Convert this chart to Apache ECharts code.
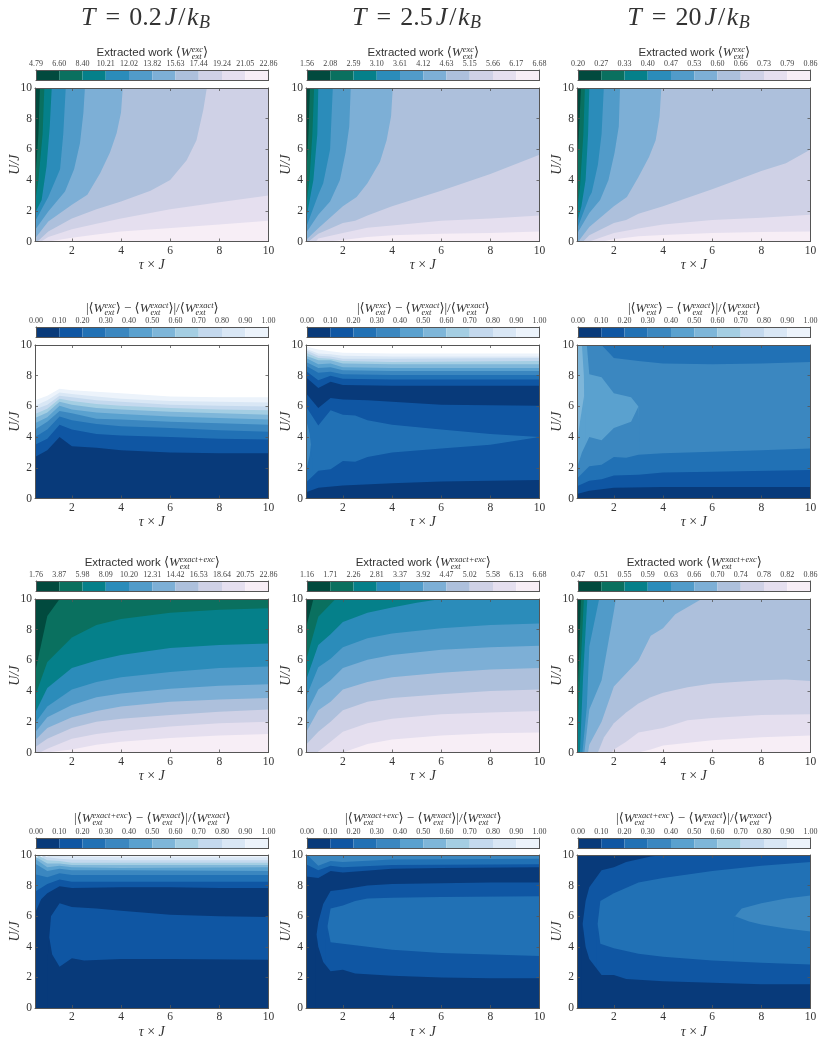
<!DOCTYPE html>
<html>
<head>
<meta charset="utf-8">
<style>
html, body { margin: 0; padding: 0; background: #fff; }
#main { width: 832px; height: 1040px; }
</style>
<script src="https://cdn.jsdelivr.net/npm/echarts@6/dist/echarts.min.js"></script>
</head>
<body>
<div id="main"></div>
<script>
var greens = ['#014a3e', '#0a705f', '#05808a', '#2b8cba', '#519bc9', '#7dafd6', '#adc0dc', '#cfd1e6', '#e5dfef', '#f7eef6'];
var blues = ['#083a7a', '#0f56a3', '#2171b5', '#3b87c0', '#5aa1cf', '#7eb6d9', '#a4cee3', '#c4d9ee', '#d9e7f5', '#ecf3fb', '#ffffff'];

var xTicks = [2, 4, 6, 8, 10];

// colorbar tick labels
var ticks11 = ['4.79', '6.60', '8.40', '10.21', '12.02', '13.82', '15.63', '17.44', '19.24', '21.05', '22.86'];
var ticks12 = ['1.56', '2.08', '2.59', '3.10', '3.61', '4.12', '4.63', '5.15', '5.66', '6.17', '6.68'];
var ticks13 = ['0.20', '0.27', '0.33', '0.40', '0.47', '0.53', '0.60', '0.66', '0.73', '0.79', '0.86'];
var ticksErr = ['0.00', '0.10', '0.20', '0.30', '0.40', '0.50', '0.60', '0.70', '0.80', '0.90', '1.00'];
var ticks31 = ['1.76', '3.87', '5.98', '8.09', '10.20', '12.31', '14.42', '16.53', '18.64', '20.75', '22.86'];
var ticks32 = ['1.16', '1.71', '2.26', '2.81', '3.37', '3.92', '4.47', '5.02', '5.58', '6.13', '6.68'];
var ticks33 = ['0.47', '0.51', '0.55', '0.59', '0.63', '0.66', '0.70', '0.74', '0.78', '0.82', '0.86'];

// contour layers, each is [level, curve], later layers paint over earlier ones
var p11 = [
  [0, [[0.5,10],[10,10]]],
  [1, [[0.5,3.8],[0.64,7],[0.7,10],[10,10]]],
  [2, [[0.5,2.5],[0.64,4],[0.81,7],[0.88,10],[10,10]]],
  [3, [[0.5,1.85],[0.77,2.7],[0.97,4.9],[1.1,7.5],[1.18,10],[10,10]]],
  [4, [[0.5,1.3],[1.04,2.9],[1.52,4.7],[1.65,7],[1.75,10],[10,10]]],
  [5, [[0.5,0.75],[1.04,1.95],[1.72,3.25],[2.09,4.7],[2.33,6.4],[2.47,8.4],[2.53,10],[10,10]]],
  [6, [[0.5,0.2],[1.04,1.3],[2,2.4],[2.63,3.05],[3.15,4.45],[3.55,5.8],[3.82,7.05],[4,8.4],[4.07,10],[10,10]]],
  [7, [[0.6,0],[1.04,0.65],[2,1.5],[3,2.1],[4,2.6],[5.2,3.3],[6,4],[6.67,5.3],[7.07,6.6],[7.35,8.6],[7.49,10],[10,10]]],
  [8, [[0.75,0],[1.04,0.3],[2,0.8],[3,1.15],[4,1.5],[6,2.1],[8,2.55],[10,3]]],
  [9, [[1.04,0],[2,0.25],[3,0.45],[4,0.65],[5.9,0.87],[8,1.1],[10,1.35]]]
];
var p12 = [
  [0, [[0.5,10],[10,10]]],
  [1, [[0.5,4],[0.6,7],[0.66,10],[10,10]]],
  [2, [[0.5,2.2],[0.64,4],[0.76,7],[0.83,10],[10,10]]],
  [3, [[0.5,1.4],[0.8,4],[0.96,7],[1,10],[10,10]]],
  [4, [[0.5,0.9],[1,3.05],[1.2,3.8],[1.48,6],[1.59,10],[10,10]]],
  [5, [[0.5,0.55],[1,1.75],[1.48,2.6],[1.88,4],[2.11,5.8],[2.26,7.5],[2.32,10],[10,10]]],
  [6, [[0.5,0.1],[1,0.87],[2,2.3],[2.56,2.9],[3,3.8],[3.51,5.2],[3.78,6.6],[3.96,8.15],[4.03,10],[10,10]]],
  [7, [[0.6,0],[1,0.5],[2,1.2],[2.5,1.35],[3,1.7],[4,2.3],[6,3.3],[8,4.4],[10,5.65]]],
  [8, [[0.9,0],[1,0.2],[2,0.55],[3,0.9],[4,1.05],[6,1.35],[8,1.5],[10,1.7]]],
  [9, [[1.4,0],[2,0.1],[3,0.3],[4,0.4],[6,0.5],[8,0.55],[10,0.65]]]
];
var p13 = [
  [0, [[0.5,10],[10,10]]],
  [1, [[0.5,4.5],[0.58,7],[0.66,10],[10,10]]],
  [2, [[0.5,2],[0.62,3.5],[0.76,7],[0.82,10],[10,10]]],
  [3, [[0.5,1.2],[0.68,2.3],[0.85,4],[0.95,7],[1,10],[10,10]]],
  [4, [[0.5,0.8],[1,2.9],[1.1,3.2],[1.35,5],[1.5,7],[1.59,10],[10,10]]],
  [5, [[0.5,0.5],[1,1.85],[1.44,2.7],[1.78,4],[2.03,5.8],[2.2,7.5],[2.25,10],[10,10]]],
  [6, [[0.6,0.1],[1,0.95],[2,2.3],[2.53,2.9],[3,4.2],[3.43,5.5],[3.7,6.6],[3.86,8.15],[3.93,10],[10,10]]],
  [7, [[0.75,0],[1,0.4],[2,1.2],[2.5,1.4],[3,1.8],[4,2.3],[6,3.4],[8,4.6],[9,5.1],[10,6]]],
  [8, [[1,0],[2,0.55],[3,0.85],[4,1.1],[6,1.4],[8,1.55],[10,1.75]]],
  [9, [[1.5,0],[2,0.15],[3,0.35],[4,0.42],[6,0.55],[8,0.62],[10,0.65]]]
];
var p21 = [
  [10, [[0.5,10],[10,10]]],
  [9, [[0.5,6.4],[1,6.7],[1.5,7.15],[2,7.05],[3,6.95],[4,6.85],[6,6.65],[8,6.6],[10,6.6]]],
  [8, [[0.5,6.05],[1,6.4],[1.5,6.9],[2,6.8],[3,6.65],[4,6.5],[6,6.35],[8,6.3],[10,6.25]]],
  [7, [[0.5,5.8],[1,6.1],[1.5,6.7],[2,6.6],[3,6.4],[4,6.3],[6,6.1],[8,6.05],[10,6]]],
  [6, [[0.5,5.5],[1,5.85],[1.5,6.5],[2,6.35],[3,6.15],[4,6.05],[6,5.9],[8,5.8],[10,5.75]]],
  [5, [[0.5,5.25],[1,5.6],[1.5,6.3],[2,6.1],[3,5.9],[4,5.8],[6,5.65],[8,5.55],[10,5.45]]],
  [4, [[0.5,4.9],[1,5.3],[1.5,6.05],[2,5.8],[3,5.6],[4,5.5],[6,5.35],[8,5.25],[10,5.15]]],
  [3, [[0.5,4.5],[1,5],[1.5,5.7],[2,5.55],[3,5.2],[4,5.15],[6,5],[8,4.9],[10,4.8]]],
  [2, [[0.5,4],[1,4.5],[1.5,5.35],[2,5.1],[3,4.85],[4,4.7],[6,4.6],[8,4.45],[10,4.35]]],
  [1, [[0.5,3.5],[1,3.9],[1.5,4.8],[2,4.5],[3,4.2],[4,4.1],[6,4],[8,3.9],[10,3.85]]],
  [0, [[0.5,2.7],[1,3.15],[1.5,4],[2,3.4],[3,3.3],[4,3.15],[6,3],[8,2.95],[10,2.95]]]
];
var p22 = [
  [10, [[0.5,10],[10,10]]],
  [9, [[0.5,9.9],[1,9.7],[1.5,9.6],[2,9.5],[4,9.45],[10,9.45]]],
  [8, [[0.5,9.75],[1,9.45],[1.5,9.4],[2,9.3],[4,9.25],[10,9.25]]],
  [7, [[0.5,9.65],[1,9.3],[1.5,9.25],[2,9.1],[4,9.1],[10,9.15]]],
  [6, [[0.5,9.5],[1,9.15],[1.5,9.1],[2,8.95],[4,8.9],[10,8.95]]],
  [5, [[0.5,9.3],[1,9],[1.5,9],[2,8.8],[4,8.75],[10,8.75]]],
  [4, [[0.5,9.15],[1,8.75],[1.5,8.8],[2,8.55],[4,8.5],[10,8.5]]],
  [3, [[0.5,8.9],[1,8.5],[1.5,8.55],[2,8.35],[4,8.3],[10,8.3]]],
  [2, [[0.5,8.65],[1,8.2],[1.5,8.25],[2,8.1],[4,8.05],[10,8.05]]],
  [1, [[0.5,8.3],[1,7.7],[1.5,8],[2,7.8],[4,7.75],[10,7.75]]],
  [0, [[0.5,7.9],[1,7.2],[1.5,7.6],[2,7.4],[4,7.35],[10,7.35]]],
  [1, [[0.5,6.85],[1,5.9],[1.5,6.55],[2,6.45],[3,6.4],[4,6.3],[6,6.1],[10,6.05]]],
  [2, [[0.5,6],[1,4.75],[1.5,5.75],[2,5.45],[2.5,5.4],[3,5.1],[4,4.8],[6,4.5],[8,4.2],[10,4]]],
  [3, [[0.5,5.2],[0.65,4.2],[0.7,3.5]]],
  [2, [[0.5,1.8],[0.65,2.8],[0.7,3.5],[0.75,2.6]]],
  [1, [[0.5,1.05],[1,1.8],[1.5,1.9],[2,2.45],[2.5,2.4],[3,2.7],[4,3],[6,3.25],[8,3.5],[10,4]]],
  [0, [[0.5,0.4],[1,0.7],[2,0.85],[4,1],[6,1.1],[10,1.2]]]
];
var p23 = [
  [2, [[0.5,10],[10,10]]],
  [3, [[0.5,10],[1.5,10],[2,9.15],[3,8.95],[4,8.8],[6,8.75],[8,8.8],[10,8.9]]],
  [4, [[0.5,10],[0.9,10],[1,8.1],[1.5,7.9],[2,6.85],[2.7,6.6],[3,6]]],
  [5, [[0.5,10],[0.7,10],[0.78,8],[0.79,6.7]]],
  [4, [[0.5,3.5],[0.62,5],[0.79,6.7],[0.83,5.5]]],
  [3, [[0.5,2],[0.7,3],[1,4],[1.5,3.8],[2,4.6],[2.7,5],[3,6],[3.06,3.6]]],
  [2, [[0.5,1.3],[1,2.1],[1.5,2.2],[2,2.7],[2.5,2.65],[3,2.85],[4,2.95],[6,3.05],[8,3.15],[10,3.25]]],
  [1, [[0.5,0.8],[1,1.15],[1.5,1.25],[2,1.5],[3,1.55],[4,1.7],[6,1.75],[10,1.85]]],
  [0, [[0.5,0.3],[1,0.5],[2,0.7],[4,0.75],[10,0.75]]]
];
var p31 = [
  [0, [[0.5,10],[10,10]]],
  [1, [[0.5,5.2],[1,8.9],[1.5,10],[10,10]]],
  [2, [[0.5,3.65],[1,5.9],[2,7.5],[3,8.3],[4,8.7],[6,9.1],[8,9.3],[10,9.4]]],
  [3, [[0.5,2.55],[1,4.2],[2,5.5],[3,6],[4,6.35],[6,6.8],[8,7],[10,7.1]]],
  [4, [[0.5,1.9],[1,3],[2,4.1],[3,4.6],[4,4.9],[6,5.25],[8,5.5],[10,5.6]]],
  [5, [[0.5,1.3],[1,2.3],[2,3.1],[3,3.6],[4,3.85],[6,4.15],[8,4.35],[10,4.45]]],
  [6, [[0.5,0.8],[1,1.6],[2,2.3],[3,2.7],[4,3],[6,3.3],[8,3.45],[10,3.55]]],
  [7, [[0.5,0.35],[1,0.9],[2,1.6],[3,2],[4,2.2],[6,2.45],[8,2.65],[10,2.8]]],
  [8, [[0.7,0],[1,0.25],[2,0.9],[3,1.2],[4,1.4],[6,1.7],[8,1.9],[10,2]]],
  [9, [[0.95,0],[2,0.2],[3,0.5],[4,0.7],[6,0.95],[8,1.1],[10,1.2]]]
];
var p32 = [
  [0, [[0.5,10],[10,10]]],
  [1, [[0.5,8.1],[0.8,10],[10,10]]],
  [2, [[0.5,6],[1,8.85],[1.7,10],[10,10]]],
  [3, [[0.5,4.7],[1,7],[1.5,7.7],[2,8.5],[3,9.1],[4,9.45],[5,9.75],[6,10],[10,10]]],
  [4, [[0.5,3.6],[1,5.55],[1.5,6.1],[2,6.85],[3,7.45],[4,7.75],[6,8.1],[8,8.3],[10,8.4]]],
  [5, [[0.5,2.5],[1,4.1],[1.5,4.7],[2,5.5],[3,6.05],[4,6.35],[6,6.7],[8,6.85],[10,6.95]]],
  [6, [[0.5,1.3],[1,2.75],[1.5,3.3],[2,4.1],[3,4.6],[4,4.9],[6,5.2],[8,5.4],[10,5.5]]],
  [7, [[0.5,0.5],[1,1.35],[1.5,2],[2,2.75],[3,3.3],[4,3.55],[6,3.8],[8,4],[10,4.1]]],
  [8, [[0.95,0],[1.5,0.7],[2,1.35],[3,1.9],[4,2.2],[6,2.5],[8,2.6],[10,2.7]]],
  [9, [[2,0],[3,0.55],[4,0.85],[6,1.1],[8,1.25],[10,1.3]]]
];
var p33 = [
  [0, [[0.5,10],[10,10]]],
  [1, [[0.5,3],[0.58,6],[0.66,10],[10,10]]],
  [2, [[0.5,0.5],[0.6,4],[0.78,10],[10,10]]],
  [3, [[0.62,0],[0.75,5],[0.92,10],[10,10]]],
  [4, [[0.72,0],[0.9,3],[1,6.9],[1.4,10],[10,10]]],
  [5, [[0.8,0],[1,2.8],[1.5,4.7],[2,9.2],[2.08,10],[10,10]]],
  [6, [[0.95,0],[1,0.5],[1.5,2],[2,4.3],[3,6],[3.5,7.6],[4,8.1],[4.5,9],[5.57,10],[10,10]]],
  [7, [[1.35,0],[1.6,1],[2,1.9],[2.5,2.6],[3,3.2],[3.5,3.6],[4,3.9],[5,4.25],[6,4.5],[8,4.7],[9,4.75],[10,4.65]]],
  [8, [[1.9,0],[2,0.2],[2.5,0.7],[3,1.3],[4,1.6],[5,2.1],[6,2.25],[8,2.45],[10,2.5]]],
  [9, [[3,0],[3.5,0.2],[4,0.45],[6,0.8],[8,1],[10,1.1]]]
];
var p41 = [
  [9, [[0.5,10],[10,10]]],
  [8, [[1,10],[1.5,9.95],[2,9.9],[4,9.85],[10,9.85]]],
  [7, [[0.8,10],[1,9.85],[1.5,9.75],[2,9.7],[4,9.65],[10,9.65]]],
  [6, [[0.6,10],[1,9.65],[1.5,9.6],[2,9.5],[4,9.5],[10,9.5]]],
  [5, [[0.5,9.9],[1,9.45],[1.5,9.45],[2,9.35],[4,9.35],[10,9.35]]],
  [4, [[0.5,9.75],[1,9.2],[1.5,9.3],[2,9.2],[4,9.15],[10,9.2]]],
  [3, [[0.5,9.45],[1,8.95],[1.5,9.1],[2,9],[4,9],[10,8.95]]],
  [2, [[0.5,8.75],[1,8.55],[1.5,8.8],[2,8.7],[4,8.7],[10,8.7]]],
  [1, [[0.5,7.6],[1,8.1],[1.5,8.4],[2,8.25],[4,8.25],[10,8.25]]],
  [0, [[0.5,6.2],[0.75,7.1],[1,7.5],[1.5,7.95],[2,7.85],[4,7.9],[6,7.9],[8,7.85],[10,7.85]]],
  [1, [[1.08,4.6],[1.15,6],[1.5,6.85],[2,6.6],[3,6.5],[4,6.35],[6,6.1],[8,6],[10,5.95]]],
  [0, [[1,3],[1.08,4.6],[1.2,3.5],[1.5,2.7],[2,3.25],[2.5,3.1],[4,3.2],[6,3.2],[10,3.15]]]
];
var p42 = [
  [3, [[0.5,10],[10,10]]],
  [2, [[0.55,10],[1,9.3],[1.5,9.6],[2,9.55],[4,9.7],[10,9.75]]],
  [1, [[0.5,9.4],[1,9],[1.5,9.3],[2,9.2],[4,9.35],[10,9.4]]],
  [0, [[0.5,8.6],[1,8.5],[1.5,8.95],[2,8.85],[4,9.1],[6,9.15],[10,9.2]]],
  [1, [[0.93,4.8],[1,5.6],[1.2,6.8],[1.5,7.65],[2,7.75],[3,8],[4,8.1],[6,8.15],[8,8.2],[10,8.2]]],
  [2, [[1.38,5.4],[1.5,6.5],[2,6.7],[2.5,7],[3,7.15],[4,7.2],[6,7.25],[10,7.3]]],
  [1, [[1.3,4.5],[1.38,5.3],[1.5,4.3],[2,4.2],[3,4],[4,3.8],[6,3.6],[8,3.5],[10,3.4]]],
  [0, [[0.88,4],[0.93,4.8],[1,4],[1.2,3],[1.5,2.4],[2,2.5],[2.5,2.25],[4,2.1],[6,2],[8,1.95],[10,1.95]]]
];
var p43 = [
  [0, [[0.5,10],[10,10]]],
  [1, [[0.73,5.5],[0.85,7],[1,7.9],[1.5,9],[2,9.2],[2.5,9.55],[3.5,9.9],[4,10],[10,10]]],
  [2, [[1.34,5.5],[1.45,7],[2,7.5],[3,8.2],[4,8.5],[6,8.95],[8,9.3],[10,9.55]]],
  [3, [[6.93,6],[7.2,6.5],[8,6.85],[9,7.15],[10,7.35]]],
  [2, [[6.85,5.4],[6.93,6],[7.5,5.65],[8,5.45],[9,5.2],[10,5]]],
  [1, [[1.28,4.5],[1.34,5.5],[1.45,4.2],[2,3.9],[3,3.55],[4,3.35],[6,3.1],[8,2.95],[10,2.85]]],
  [0, [[0.68,4.5],[0.73,5.5],[0.85,4],[1,3.2],[1.5,2.15],[2,2.15],[2.5,1.9],[4,1.75],[6,1.65],[8,1.55],[10,1.55]]]
];

var serif = '"Liberation Serif", "DejaVu Serif", serif';
var sans = '"Liberation Sans", Arial, sans-serif';
var textColor = '#333';
var frameColor = '#555';

// pixel layout of the rows and columns
var colLeft = [35, 306, 577];
var plotW = 233.5;
var plotH = 153.5;
var rowTop = [88, 345, 599, 855];
var barTop = [70, 327, 581, 838];
var barH = 10.5;
var titleY = [53, 309, 563, 819];

var panels = [
  { r: 0, c: 0, layers: p11, map: greens, ticks: ticks11, title: 'we' },
  { r: 0, c: 1, layers: p12, map: greens, ticks: ticks12, title: 'we' },
  { r: 0, c: 2, layers: p13, map: greens, ticks: ticks13, title: 'we' },
  { r: 1, c: 0, layers: p21, map: blues, ticks: ticksErr, title: 'ee' },
  { r: 1, c: 1, layers: p22, map: blues, ticks: ticksErr, title: 'ee' },
  { r: 1, c: 2, layers: p23, map: blues, ticks: ticksErr, title: 'ee' },
  { r: 2, c: 0, layers: p31, map: greens, ticks: ticks31, title: 'wx' },
  { r: 2, c: 1, layers: p32, map: greens, ticks: ticks32, title: 'wx' },
  { r: 2, c: 2, layers: p33, map: greens, ticks: ticks33, title: 'wx' },
  { r: 3, c: 0, layers: p41, map: blues, ticks: ticksErr, title: 'ex' },
  { r: 3, c: 1, layers: p42, map: blues, ticks: ticksErr, title: 'ex' },
  { r: 3, c: 2, layers: p43, map: blues, ticks: ticksErr, title: 'ex' }
];

// math text is laid out by hand out of small pieces
var measure = document.createElement('canvas').getContext('2d');
function textWidth(str, font) {
  measure.font = font;
  return measure.measureText(str).width;
}
function S(t) { return { t: t, font: '11.5px ' + sans }; }
function R(t) { return { t: t, font: '13px ' + serif }; }
function I(t) { return { t: t, font: 'italic 13px ' + serif }; }
function Wterm(sup) {
  return [R('\u27e8'), I('W'), { sup: sup, sub: 'ext' }, R('\u27e9')];
}
function mathLine(cx, cy, parts) {
  var subFont = 'italic 8.5px ' + serif;
  var w = 0;
  parts.forEach(function (p) {
    if (p.t !== undefined) p.w = textWidth(p.t, p.font) + (p.gap || 0);
    else if (p.sup !== undefined) p.w = Math.max(textWidth(p.sup, subFont), textWidth(p.sub, subFont));
    else p.w = textWidth(p.low, p.font);
    w += p.w;
  });
  var x = cx - w / 2;
  var out = [];
  function put(str, font, px, py) {
    out.push({ type: 'text', x: px, y: py, silent: true, style: { text: str, font: font, fill: textColor, textAlign: 'left', textVerticalAlign: 'middle' } });
  }
  parts.forEach(function (p) {
    if (p.t !== undefined) put(p.t, p.font, x + (p.gap || 0) / 2, cy);
    else if (p.sup !== undefined) { put(p.sup, subFont, x, cy - 3.5); put(p.sub, subFont, x, cy + 3.5); }
    else put(p.low, p.font, x, cy + p.dy);
    x += p.w;
  });
  return out;
}
var titleParts = {
  we: function () { return [S('Extracted work ')].concat(Wterm('exc')); },
  wx: function () { return [S('Extracted work ')].concat(Wterm('exact+exc')); },
  ee: function () { return [R('|')].concat(Wterm('exc'), [R(' \u2212 ')], Wterm('exact'), [R('|/')], Wterm('exact')); },
  ex: function () { return [R('|')].concat(Wterm('exact+exc'), [R(' \u2212 ')], Wterm('exact'), [R('|/')], Wterm('exact')); }
};
function header(cx, val) {
  var f = '26px ' + serif, fi = 'italic 26px ' + serif;
  return mathLine(cx, 18, [
    { t: 'T', font: fi, gap: 6 }, { t: '=', font: f, gap: 14 }, { t: val, font: f, gap: 4 },
    { t: 'J', font: fi, gap: 2 }, { t: '/', font: f, gap: 2 }, { t: 'k', font: fi, gap: 1 },
    { low: 'B', font: 'italic 18px ' + serif, dy: 5 }
  ]);
}

var grids = [], xAxes = [], yAxes = [], series = [], graphics = [];

function plotAxes(g) {
  var n = xAxes.length;
  var tickX = { show: true, inside: true, length: 3, lineStyle: { color: frameColor, width: 0.8 }, customValues: xTicks };
  var tickY = { show: true, inside: true, length: 3, lineStyle: { color: frameColor, width: 0.8 } };
  var line = { show: true, onZero: false, lineStyle: { color: frameColor, width: 1 } };
  xAxes.push({
    gridIndex: g, type: 'value', min: 0.5, max: 10, position: 'bottom', z: 10,
    axisLine: line, axisTick: tickX, splitLine: { show: false },
    axisLabel: { customValues: xTicks, margin: 3, fontFamily: serif, fontSize: 11.5, color: textColor },
    name: '{i|\u03c4} \u00d7 {i|J}', nameLocation: 'middle', nameGap: 17, nameMoveOverlap: false,
    nameTextStyle: { fontFamily: serif, fontSize: 14, color: textColor, rich: { i: { fontFamily: serif, fontStyle: 'italic', fontSize: 14, color: textColor } } }
  });
  xAxes.push({
    gridIndex: g, type: 'value', min: 0.5, max: 10, position: 'top', z: 10,
    axisLine: line, axisTick: tickX, axisLabel: { show: false }, splitLine: { show: false }
  });
  yAxes.push({
    gridIndex: g, type: 'value', min: 0, max: 10, interval: 2, position: 'left', z: 10,
    axisLine: line, axisTick: tickY, splitLine: { show: false },
    axisLabel: { margin: 3, fontFamily: serif, fontSize: 11.5, color: textColor },
    name: 'U/J', nameLocation: 'middle', nameGap: 13, nameMoveOverlap: false,
    nameTextStyle: { fontFamily: serif, fontStyle: 'italic', fontSize: 14, color: textColor }
  });
  yAxes.push({
    gridIndex: g, type: 'value', min: 0, max: 10, interval: 2, position: 'right', z: 10,
    axisLine: line, axisTick: tickY, axisLabel: { show: false }, splitLine: { show: false }
  });
  return n;
}

function barAxes(g, labels) {
  var n = xAxes.length;
  var line = { show: true, onZero: false, lineStyle: { color: frameColor, width: 1 } };
  xAxes.push({
    gridIndex: g, type: 'value', min: 0, max: 10, interval: 1, position: 'top', z: 10,
    axisLine: line, axisTick: { show: false }, splitLine: { show: false },
    axisLabel: {
      margin: 2, fontFamily: serif, fontSize: 8, color: '#444', hideOverlap: false,
      formatter: function (v) { return labels[Math.round(v)]; }
    }
  });
  xAxes.push({
    gridIndex: g, type: 'value', min: 0, max: 10, position: 'bottom', z: 10,
    axisLine: line, axisTick: { show: false }, axisLabel: { show: false }, splitLine: { show: false }
  });
  ['left', 'right'].forEach(function (pos) {
    yAxes.push({
      gridIndex: g, type: 'category', data: ['c'], position: pos, z: 10,
      axisLine: line, axisTick: { show: false }, axisLabel: { show: false }
    });
  });
  return n;
}

panels.forEach(function (p, i) {
  var left = colLeft[p.c];
  // contour plot
  grids.push({ left: left, top: rowTop[p.r], width: plotW, height: plotH });
  var ax = plotAxes(grids.length - 1);
  p.layers.forEach(function (layer) {
    series.push({
      type: 'line', xAxisIndex: ax, yAxisIndex: ax, data: layer[1],
      showSymbol: false, silent: true, lineStyle: { width: 0 },
      areaStyle: { color: p.map[layer[0]], opacity: 1, origin: 'start' }
    });
  });
  // colorbar on top
  grids.push({ left: left + 1, top: barTop[p.r], width: plotW - 1, height: barH });
  var bx = barAxes(grids.length - 1, p.ticks);
  for (var k = 0; k < 10; k++) {
    series.push({
      type: 'bar', xAxisIndex: bx, yAxisIndex: bx, stack: 'cb' + i, data: [1],
      barWidth: '100%', silent: true, itemStyle: { color: p.map[k] }
    });
  }
  graphics = graphics.concat(mathLine(left + plotW / 2 + 0.5, titleY[p.r], titleParts[p.title]()));
});

graphics = graphics.concat(header(144, '0.2'), header(415, '2.5'), header(687, '20'));

var chart = echarts.init(document.getElementById('main'));
chart.setOption({
  animation: false,
  backgroundColor: '#fff',
  grid: grids,
  xAxis: xAxes,
  yAxis: yAxes,
  series: series,
  graphic: { elements: graphics }
});
</script>
</body>
</html>
